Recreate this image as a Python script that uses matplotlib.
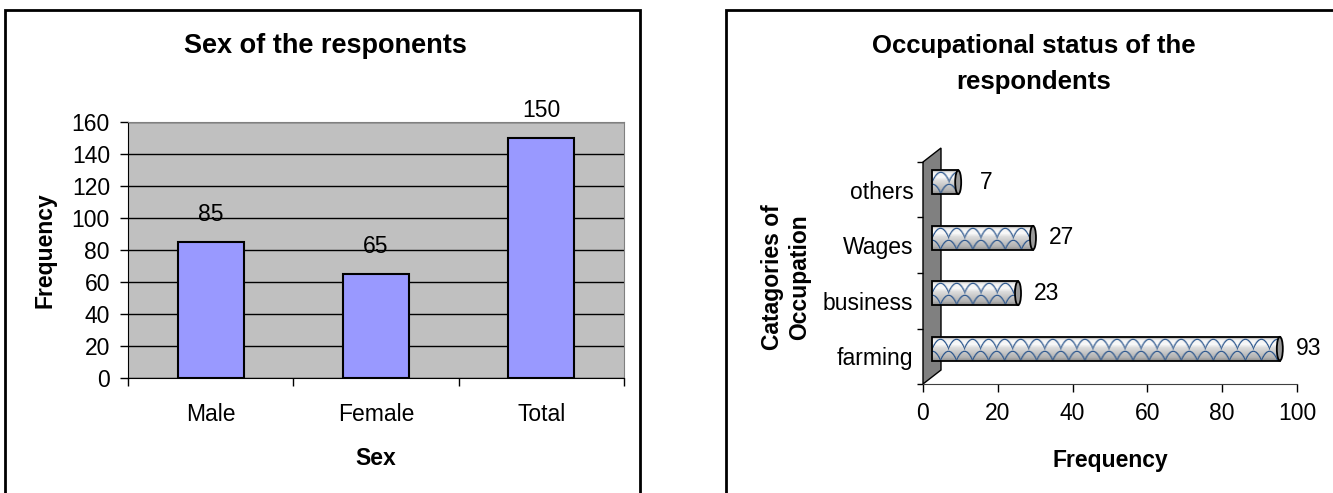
import numpy as np
import matplotlib
matplotlib.use("Agg")
import matplotlib.pyplot as plt
from matplotlib.patches import Rectangle, Ellipse, Polygon
from matplotlib.transforms import ScaledTranslation, IdentityTransform

plt.rcParams['font.family'] = ['Liberation Sans', 'DejaVu Sans']

# data
sex_labels = ['Male', 'Female', 'Total']
sex_counts = [85, 65, 150]

occ_labels = ['farming', 'business', 'Wages', 'others']
occ_counts = [93, 23, 27, 7]

W, H = 1333, 493
FS = 16.5
fig = plt.figure(figsize=(W / 100, H / 100), dpi=100)


def px_axes(x0, y0, x1, y1):
    """axes from pixel box (top-left origin)"""
    return fig.add_axes([x0 / W, (H - y1) / H, (x1 - x0) / W, (y1 - y0) / H])


# chart frames
fig.patches.append(Rectangle((5 / W, -0.1), (640 - 5) / W, (H - 10) / H + 0.1,
                             transform=fig.transFigure, fill=False, lw=2, ec='black'))
fig.patches.append(Rectangle((726 / W, -0.1), 0.5, (H - 10) / H + 0.1,
                             transform=fig.transFigure, fill=False, lw=2, ec='black'))

# ---- left: sex of respondents ----
ax1 = px_axes(128, 122, 624, 378)
ax1.set_facecolor('#c0c0c0')
xs = np.arange(len(sex_labels))
ax1.bar(xs, sex_counts, width=0.4, color='#9999ff', edgecolor='black', lw=1.5, zorder=3)
for x, v in zip(xs, sex_counts):
    ax1.annotate(str(v), xy=(x, v), xytext=(0, 19.5), textcoords='offset points',
                 ha='center', va='center', fontsize=FS)
ax1.set_xlim(-0.5, 2.5)
ax1.set_ylim(0, 160)
ax1.set_yticks(range(0, 161, 20))
ax1.yaxis.grid(True, color='black', lw=1)
ax1.set_axisbelow(True)
ax1.set_xticks([-0.5, 0.5, 1.5, 2.5])
ax1.set_xticklabels([])
ax1.set_xticks(xs, minor=True)
ax1.set_xticklabels(sex_labels, minor=True)
ax1.tick_params(axis='x', which='major', direction='out', length=6, width=1)
ax1.tick_params(axis='x', which='minor', length=0, pad=18, labelsize=FS)
ax1.tick_params(axis='y', direction='out', length=6, width=1, pad=7, labelsize=FS)
for s in ('top', 'right'):
    ax1.spines[s].set_color('#808080')
ax1.set_xlabel('Sex', fontsize=FS, fontweight='bold', labelpad=15)
ax1.set_ylabel('Frequency', fontsize=FS, fontweight='bold', labelpad=11)
fig.text(325 / W, 1 - 46 / H, 'Sex of the responents', ha='center', va='center',
         fontsize=19.5, fontweight='bold')

# ---- right: occupation (pseudo 3d cylinders) ----
ax2 = px_axes(923, 162, 1297, 384)
ax2.set_xlim(0, 100)
ax2.set_ylim(-0.5, 3.5)
ys = np.arange(len(occ_labels))
bar_h = 0.43
shift = ax2.transData + ScaledTranslation(9 / 100, 7.5 / 100, fig.dpi_scale_trans)

# back wall, drawn in figure pixels
wall_pts = [(923, 384), (923, 162), (941, 148), (941, 370)]
wall = Polygon([(px, H - py) for px, py in wall_pts], closed=True,
               transform=IdentityTransform(), fc='#808080', ec='black', lw=1, zorder=1)
wall.set_clip_on(False)
ax2.add_patch(wall)


def cylinder_texture(npx_w, npx_h, period=16.0):
    yy, xx = np.mgrid[0:npx_h, 0:npx_w].astype(float)
    fy = (yy + 0.5) / npx_h
    # shading across the tube
    shade = np.interp(fy, [0, 0.12, 0.3, 0.45, 0.6, 0.85, 1.0],
                      [0.62, 0.95, 0.98, 0.86, 0.80, 0.70, 0.55])
    img = np.dstack([shade, shade, shade])
    blue = np.array([0.16, 0.33, 0.55])
    row_h = npx_h / 2.0
    ink = np.zeros_like(fy)
    for r in range(2):
        ph = (xx / period + 0.5 * r) % 1.0
        curve = r * row_h + row_h * (0.15 + 0.75 * (2 * ph - 1) ** 2)
        slope = row_h * 0.75 * 4 * np.abs(2 * ph - 1) / period
        d = np.abs(yy - curve) / np.sqrt(1 + slope ** 2)
        ink = np.maximum(ink, np.clip(1.1 - d, 0, 1))
    img = img * (1 - ink[..., None]) + blue * ink[..., None]
    return img


px_per_unit = (1297 - 923) / 100.0
bar_px = bar_h * (222 / 4.0)
cap_w = 6 / px_per_unit
for y, v in zip(ys, occ_counts):
    rect = Rectangle((0, y - bar_h / 2), v, bar_h, transform=shift,
                     fc='none', ec='black', lw=1.3, zorder=4)
    ax2.add_patch(rect)
    tex = cylinder_texture(max(int(v * px_per_unit), 2), int(round(bar_px)))
    im = ax2.imshow(tex, extent=[0, v, y - bar_h / 2, y + bar_h / 2],
                    aspect='auto', transform=shift, zorder=3, interpolation='bilinear')
    im.set_clip_path(rect)
    ax2.add_patch(Ellipse((v, y), cap_w, bar_h, transform=shift,
                          fc='#9a9a9a', ec='black', lw=1.3, zorder=5))
    ax2.annotate(str(v), xy=(v, y), xytext=(27, 5.4), textcoords='offset points',
                 ha='center', va='center', fontsize=FS)

ax2.set_xlim(0, 100)
ax2.set_ylim(-0.5, 3.5)
ax2.set_xticks(range(0, 101, 20))
ax2.set_yticks(np.arange(-0.5, 4, 1.0))
ax2.set_yticklabels([])
ax2.set_yticks(ys, minor=True)
ax2.set_yticklabels(occ_labels, minor=True)
ax2.tick_params(axis='y', which='major', direction='out', length=4, width=1)
ax2.tick_params(axis='y', which='minor', length=0, pad=7, labelsize=FS)
ax2.tick_params(axis='x', direction='out', length=6, width=1, pad=7, labelsize=FS)
for s in ('top', 'right'):
    ax2.spines[s].set_visible(False)
ax2.spines['bottom'].set_color('#404040')
ax2.spines['left'].set_visible(False)
ax2.set_facecolor('none')
ax2.set_xlabel('Frequency', fontsize=FS, fontweight='bold', labelpad=17)
fig.text(786 / W, 1 - 277 / H, 'Catagories of\nOccupation', rotation=90,
         ha='center', va='center', fontsize=FS, fontweight='bold',
         multialignment='center', linespacing=1.2)
fig.text(1034 / W, 1 - 64 / H, 'Occupational status of the\nrespondents', ha='center',
         va='center', fontsize=18.5, fontweight='bold', linespacing=1.68)

fig.savefig('out.png', dpi=100)
